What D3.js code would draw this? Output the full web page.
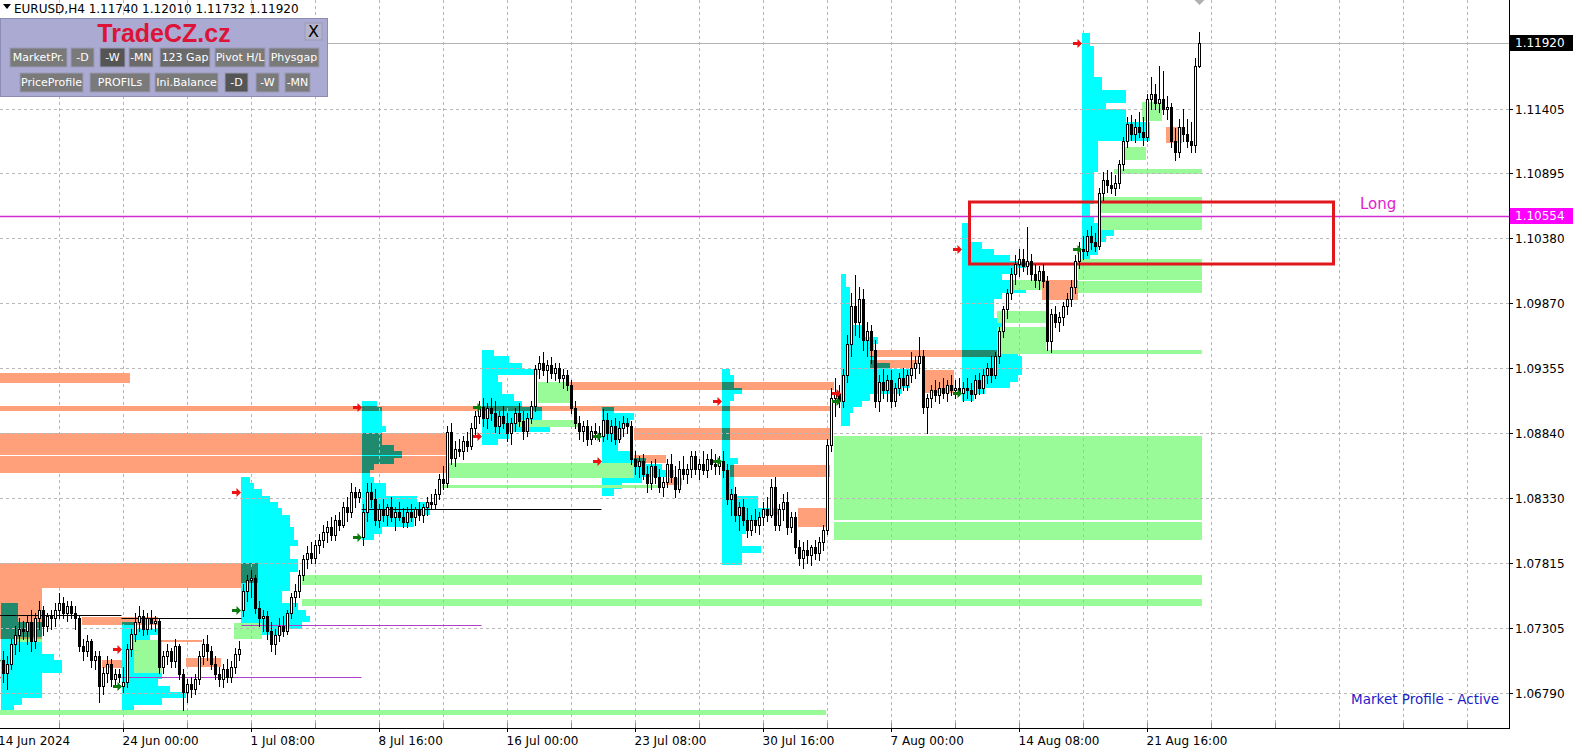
<!DOCTYPE html>
<html><head><meta charset="utf-8">
<script src="https://cdn.jsdelivr.net/npm/d3@7"></script>
<style>
html,body{margin:0;padding:0;background:#fff;overflow:hidden}
svg{display:block;font-family:"DejaVu Sans",sans-serif}
</style></head><body>
<svg id="c" width="1577" height="756"></svg>
<script>
// ---------- DATA ----------
// H4 bars, index 0 = 17 Jun 2024 00:00 ... 299 = 23 Aug 2024 20:00  [open, high, low, close]
const ohlc = [
[1.0705,1.0712,1.0688,1.0695],[1.0695,1.0708,1.0682,1.0702],[1.0702,1.0722,1.0698,1.0718],[1.0718,1.0732,1.0710,1.0725],[1.0725,1.0738,1.0712,1.0730],[1.0730,1.0736,1.0722,1.0728],
[1.0728,1.0740,1.0718,1.0735],[1.0735,1.0745,1.0712,1.0720],[1.0720,1.0742,1.0715,1.0738],[1.0738,1.0752,1.0730,1.0745],[1.0745,1.0748,1.0725,1.0732],[1.0732,1.0742,1.0728,1.0740],
[1.0740,1.0745,1.0730,1.0738],[1.0738,1.0750,1.0732,1.0745],[1.0745,1.0758,1.0738,1.0750],[1.0750,1.0755,1.0738,1.0742],[1.0742,1.0752,1.0736,1.0748],[1.0748,1.0752,1.0738,1.0742],
[1.0742,1.0748,1.0730,1.0738],[1.0738,1.0740,1.0712,1.0716],[1.0716,1.0722,1.0705,1.0712],[1.0712,1.0725,1.0708,1.0720],[1.0720,1.0722,1.0700,1.0705],[1.0705,1.0712,1.0698,1.0708],
[1.0708,1.0712,1.0672,1.0685],[1.0685,1.0700,1.0678,1.0695],[1.0695,1.0708,1.0688,1.0702],[1.0702,1.0706,1.0685,1.0690],[1.0690,1.0698,1.0684,1.0694],[1.0694,1.0698,1.0688,1.0692],
// 24 Jun
[1.0685,1.0700,1.0680,1.0688],[1.0688,1.0718,1.0684,1.0714],[1.0714,1.0730,1.0708,1.0726],[1.0726,1.0742,1.0720,1.0735],[1.0735,1.0748,1.0728,1.0740],[1.0740,1.0745,1.0725,1.0730],
[1.0730,1.0742,1.0726,1.0738],[1.0738,1.0745,1.0730,1.0734],[1.0734,1.0740,1.0728,1.0736],[1.0736,1.0738,1.0695,1.0700],[1.0700,1.0712,1.0695,1.0708],[1.0708,1.0718,1.0702,1.0712],
[1.0712,1.0715,1.0700,1.0704],[1.0704,1.0722,1.0700,1.0716],[1.0716,1.0718,1.0690,1.0694],[1.0694,1.0698,1.0666,1.0680],[1.0680,1.0690,1.0672,1.0686],[1.0686,1.0692,1.0676,1.0682],
[1.0682,1.0694,1.0678,1.0690],[1.0690,1.0712,1.0686,1.0708],[1.0708,1.0722,1.0702,1.0718],[1.0718,1.0725,1.0705,1.0712],[1.0712,1.0716,1.0698,1.0702],[1.0702,1.0708,1.0690,1.0694],
[1.0694,1.0700,1.0685,1.0690],[1.0690,1.0702,1.0684,1.0698],[1.0698,1.0706,1.0688,1.0692],[1.0692,1.0704,1.0688,1.0700],[1.0700,1.0715,1.0695,1.0710],[1.0710,1.0720,1.0705,1.0714],
// 1 Jul
[1.0745,1.0765,1.0740,1.0760],[1.0760,1.0772,1.0752,1.0768],[1.0768,1.0776,1.0755,1.0770],[1.0770,1.0772,1.0742,1.0746],[1.0746,1.0752,1.0732,1.0738],[1.0738,1.0745,1.0728,1.0740],
[1.0740,1.0744,1.0722,1.0728],[1.0728,1.0735,1.0712,1.0718],[1.0718,1.0730,1.0710,1.0725],[1.0725,1.0738,1.0720,1.0732],[1.0732,1.0740,1.0724,1.0728],[1.0728,1.0745,1.0726,1.0742],
[1.0742,1.0758,1.0738,1.0755],[1.0755,1.0765,1.0748,1.0760],[1.0760,1.0776,1.0755,1.0772],[1.0772,1.0788,1.0768,1.0785],[1.0785,1.0795,1.0778,1.0790],[1.0790,1.0798,1.0782,1.0786],
[1.0786,1.0800,1.0782,1.0796],[1.0796,1.0805,1.0790,1.0800],[1.0800,1.0812,1.0794,1.0806],[1.0806,1.0815,1.0798,1.0810],[1.0810,1.0818,1.0800,1.0804],[1.0804,1.0820,1.0800,1.0816],
[1.0816,1.0822,1.0808,1.0812],[1.0812,1.0830,1.0810,1.0826],[1.0826,1.0834,1.0815,1.0822],[1.0822,1.0845,1.0818,1.0838],[1.0838,1.0842,1.0826,1.0834],[1.0834,1.0840,1.0830,1.0838],
// 8 Jul
[1.0802,1.0828,1.0796,1.0822],[1.0822,1.0845,1.0815,1.0838],[1.0838,1.0845,1.0826,1.0832],[1.0832,1.0840,1.0812,1.0816],[1.0816,1.0828,1.0810,1.0824],[1.0824,1.0832,1.0815,1.0820],
[1.0820,1.0828,1.0812,1.0826],[1.0826,1.0834,1.0815,1.0818],[1.0818,1.0826,1.0808,1.0822],[1.0822,1.0830,1.0816,1.0818],[1.0818,1.0825,1.0810,1.0814],[1.0814,1.0826,1.0810,1.0822],
[1.0822,1.0828,1.0815,1.0818],[1.0818,1.0826,1.0812,1.0824],[1.0824,1.0830,1.0816,1.0820],[1.0820,1.0828,1.0814,1.0826],[1.0826,1.0834,1.0820,1.0830],[1.0830,1.0836,1.0824,1.0828],
[1.0828,1.0840,1.0825,1.0836],[1.0836,1.0852,1.0832,1.0848],[1.0848,1.0858,1.0840,1.0845],[1.0845,1.0890,1.0842,1.0885],[1.0885,1.0892,1.0860,1.0865],[1.0865,1.0878,1.0858,1.0872],
[1.0872,1.0880,1.0866,1.0870],[1.0870,1.0882,1.0864,1.0878],[1.0878,1.0885,1.0870,1.0874],[1.0874,1.0892,1.0872,1.0888],[1.0888,1.0902,1.0882,1.0898],[1.0898,1.0910,1.0892,1.0905],
// 15 Jul
[1.0905,1.0912,1.0890,1.0896],[1.0896,1.0908,1.0888,1.0904],[1.0904,1.0912,1.0895,1.0900],[1.0900,1.0910,1.0885,1.0890],[1.0890,1.0902,1.0884,1.0898],[1.0898,1.0906,1.0888,1.0892],
[1.0892,1.0900,1.0878,1.0884],[1.0884,1.0896,1.0876,1.0892],[1.0892,1.0904,1.0886,1.0900],[1.0900,1.0908,1.0890,1.0894],[1.0894,1.0902,1.0880,1.0886],[1.0886,1.0900,1.0882,1.0896],
[1.0896,1.0910,1.0892,1.0906],[1.0906,1.0938,1.0902,1.0935],[1.0935,1.0945,1.0928,1.0940],[1.0940,1.0948,1.0930,1.0934],[1.0934,1.0942,1.0925,1.0938],[1.0938,1.0944,1.0928,1.0932],
[1.0932,1.0940,1.0926,1.0936],[1.0936,1.0940,1.0925,1.0928],[1.0928,1.0935,1.0920,1.0930],[1.0930,1.0934,1.0918,1.0922],[1.0922,1.0926,1.0900,1.0904],[1.0904,1.0910,1.0888,1.0892],
[1.0892,1.0898,1.0880,1.0886],[1.0886,1.0894,1.0878,1.0890],[1.0890,1.0895,1.0875,1.0880],[1.0880,1.0890,1.0876,1.0886],[1.0886,1.0892,1.0880,1.0884],[1.0884,1.0890,1.0878,1.0882],
// 22 Jul
[1.0882,1.0903,1.0878,1.0895],[1.0895,1.0900,1.0880,1.0884],[1.0884,1.0895,1.0878,1.0890],[1.0890,1.0896,1.0876,1.0880],[1.0880,1.0894,1.0877,1.0888],[1.0888,1.0898,1.0882,1.0892],
[1.0892,1.0896,1.0884,1.0890],[1.0890,1.0894,1.0860,1.0864],[1.0864,1.0870,1.0852,1.0858],[1.0858,1.0866,1.0850,1.0862],[1.0862,1.0868,1.0848,1.0852],[1.0852,1.0858,1.0838,1.0845],
[1.0845,1.0862,1.0840,1.0858],[1.0858,1.0864,1.0845,1.0850],[1.0850,1.0856,1.0838,1.0842],[1.0842,1.0850,1.0835,1.0846],[1.0846,1.0864,1.0842,1.0860],[1.0860,1.0868,1.0846,1.0850],
[1.0850,1.0858,1.0834,1.0840],[1.0840,1.0862,1.0838,1.0856],[1.0856,1.0866,1.0848,1.0852],[1.0852,1.0860,1.0845,1.0856],[1.0856,1.0870,1.0850,1.0866],[1.0866,1.0870,1.0852,1.0856],
[1.0856,1.0864,1.0848,1.0860],[1.0860,1.0870,1.0852,1.0855],[1.0855,1.0868,1.0850,1.0864],[1.0864,1.0872,1.0856,1.0860],[1.0860,1.0868,1.0852,1.0858],[1.0858,1.0866,1.0852,1.0862],
// 29 Jul
[1.0862,1.0870,1.0850,1.0855],[1.0855,1.0860,1.0828,1.0832],[1.0832,1.0840,1.0820,1.0836],[1.0836,1.0842,1.0815,1.0820],[1.0820,1.0830,1.0808,1.0826],[1.0826,1.0832,1.0812,1.0816],
[1.0816,1.0825,1.0802,1.0808],[1.0808,1.0820,1.0804,1.0816],[1.0816,1.0824,1.0806,1.0812],[1.0812,1.0822,1.0805,1.0818],[1.0818,1.0830,1.0812,1.0824],[1.0824,1.0834,1.0815,1.0820],
[1.0820,1.0848,1.0818,1.0842],[1.0842,1.0850,1.0808,1.0812],[1.0812,1.0828,1.0808,1.0824],[1.0824,1.0836,1.0816,1.0830],[1.0830,1.0838,1.0805,1.0810],[1.0810,1.0822,1.0806,1.0818],
[1.0818,1.0822,1.0790,1.0794],[1.0794,1.0800,1.0780,1.0786],[1.0786,1.0798,1.0778,1.0792],[1.0792,1.0800,1.0782,1.0788],[1.0788,1.0796,1.0780,1.0794],[1.0794,1.0800,1.0785,1.0790],
[1.0790,1.0802,1.0784,1.0798],[1.0798,1.0812,1.0792,1.0808],[1.0808,1.0880,1.0805,1.0875],[1.0875,1.0920,1.0870,1.0912],[1.0912,1.0928,1.0898,1.0915],[1.0915,1.0922,1.0905,1.0910],
// 5 Aug
[1.0910,1.0935,1.0905,1.0930],[1.0930,1.0962,1.0925,1.0955],[1.0955,1.0995,1.0945,1.0985],[1.0985,1.1009,1.0962,1.0972],[1.0972,1.1000,1.0960,1.0990],[1.0990,1.0998,1.0950,1.0958],
[1.0958,1.0972,1.0945,1.0965],[1.0965,1.0970,1.0940,1.0950],[1.0950,1.0958,1.0905,1.0910],[1.0910,1.0930,1.0902,1.0925],[1.0925,1.0935,1.0912,1.0918],[1.0918,1.0930,1.0910,1.0926],
[1.0926,1.0934,1.0905,1.0910],[1.0910,1.0924,1.0906,1.0920],[1.0920,1.0932,1.0914,1.0928],[1.0928,1.0936,1.0918,1.0922],[1.0922,1.0934,1.0918,1.0930],[1.0930,1.0948,1.0925,1.0936],
[1.0936,1.0945,1.0928,1.0940],[1.0940,1.0960,1.0932,1.0945],[1.0945,1.0950,1.0900,1.0905],[1.0905,1.0915,1.0884,1.0912],[1.0912,1.0922,1.0905,1.0918],[1.0918,1.0926,1.0910,1.0914],
[1.0914,1.0925,1.0908,1.0920],[1.0920,1.0928,1.0912,1.0916],[1.0916,1.0926,1.0910,1.0922],[1.0922,1.0930,1.0914,1.0918],[1.0918,1.0926,1.0912,1.0920],[1.0920,1.0928,1.0914,1.0916],
// 12 Aug
[1.0916,1.0925,1.0910,1.0920],[1.0920,1.0928,1.0912,1.0918],[1.0918,1.0924,1.0910,1.0915],[1.0915,1.0930,1.0912,1.0926],[1.0926,1.0932,1.0915,1.0920],[1.0920,1.0935,1.0916,1.0930],
[1.0930,1.0940,1.0924,1.0936],[1.0936,1.0945,1.0925,1.0930],[1.0930,1.0948,1.0928,1.0945],[1.0945,1.0968,1.0940,1.0965],[1.0965,1.0985,1.0960,1.0982],[1.0982,1.0998,1.0975,1.0995],
[1.0995,1.1015,1.0990,1.1010],[1.1010,1.1025,1.1002,1.1018],[1.1018,1.1030,1.1008,1.1022],[1.1022,1.1030,1.1012,1.1016],[1.1016,1.1047,1.1010,1.1020],[1.1020,1.1026,1.1005,1.1010],
[1.1010,1.1018,1.1000,1.1005],[1.1005,1.1016,1.0998,1.1012],[1.1012,1.1018,1.1000,1.1004],[1.1004,1.1008,1.0950,1.0957],[1.0957,1.0982,1.0948,1.0978],[1.0978,1.0985,1.0968,1.0972],
[1.0972,1.0980,1.0965,1.0976],[1.0976,1.0988,1.0970,1.0985],[1.0985,1.0995,1.0978,1.0990],[1.0990,1.1005,1.0985,1.1000],[1.1000,1.1025,1.0995,1.1020],[1.1020,1.1035,1.1015,1.1030],
// 19 Aug
[1.1030,1.1040,1.1022,1.1028],[1.1028,1.1045,1.1025,1.1040],[1.1040,1.1048,1.1030,1.1035],[1.1035,1.1042,1.1028,1.1032],[1.1032,1.1078,1.1030,1.1074],[1.1074,1.1090,1.1068,1.1084],
[1.1084,1.1092,1.1075,1.1080],[1.1080,1.1090,1.1074,1.1078],[1.1078,1.1088,1.1072,1.1082],[1.1082,1.1100,1.1078,1.1097],[1.1097,1.1118,1.1092,1.1115],[1.1115,1.1134,1.1110,1.1128],
[1.1128,1.1135,1.1116,1.1120],[1.1120,1.1132,1.1114,1.1126],[1.1126,1.1138,1.1118,1.1122],[1.1122,1.1134,1.1112,1.1118],[1.1118,1.1152,1.1115,1.1148],[1.1148,1.1165,1.1140,1.1152],
[1.1152,1.1160,1.1140,1.1145],[1.1145,1.1174,1.1138,1.1148],[1.1148,1.1170,1.1136,1.1140],[1.1140,1.1150,1.1132,1.1142],[1.1142,1.1145,1.1110,1.1115],[1.1115,1.1125,1.1100,1.1106],
[1.1106,1.1132,1.1102,1.1126],[1.1126,1.1140,1.1115,1.1120],[1.1120,1.1132,1.1110,1.1115],[1.1115,1.1130,1.1106,1.1112],[1.1112,1.1180,1.1106,1.1174],[1.11740,1.12010,1.11732,1.11920]
];

const priceTicks = [1.11920, 1.11405, 1.10895, 1.10380, 1.09870, 1.09355, 1.08840, 1.08330, 1.07815, 1.07305, 1.06790];
const timeLabelBars = [-2, 30, 62, 94, 126, 158, 190, 222, 254, 286];
const timeLabelTexts = ["14 Jun 2024","24 Jun 00:00","1 Jul 08:00","8 Jul 16:00","16 Jul 00:00","23 Jul 08:00","30 Jul 16:00","7 Aug 00:00","14 Aug 08:00","21 Aug 16:00"];

// weekly market profiles: first bar of week, top price, TPO counts per 5-pip row
const profileStep = 0.0005;
const profileStart = [0, 30, 60, 90, 120, 150, 180, 210, 240, 270];
const profileTop = [1.0750, 1.0735, 1.0850, 1.0910, 1.0950, 1.0905, 1.0935, 1.1010, 1.1050, 1.1200];
const profileCounts = [
  [4,4,4,10,10,10,10,10,13,15,15,10,10,10,10,5,3],
  [3,9,7,7,8,10,10,10,10,9,12,16,10,3],
  [2,3,5,7,9,10,12,12,13,13,14,12,12,14,14,12,12,12,10,10,14,16,17,15,10],
  [4,5,5,5,6,5,5,8,10,8,3,2,3,6,6,14,17,17,13,13,5,3],
  [3,7,10,14,4,5,5,8,10,15,15,17,17,7,4],
  [3,8,7,5,5,4,4,7,11,15,18,10,5,3],
  [2,3,3,5,3,2,2,2,2,2,2,2,2,2,4,3,3,3,3,3,9,9,14,10,6,6,5,5,10,5,5],
  [1,1,2,2,2,3,3,3,5,5,9,8,7,8,12,17,17,17,15,7,5,3,2,2],
  [2,2,2,5,8,12,16,14,10,14,16,10,8,8,8,10,10,10,12,12,14,15,15,15,14,12,6,3],
  [2,2,3,3,3,3,3,5,5,11,11,6,11,11,17,17,17,4,4,4,4,4,3,3,3,3,3,2,2,3,4,8,6,4,4,2]
];

// zones [fromBar, toBar, highPrice, lowPrice]
const salmonZones = [
  [-1,32,1.0932,1.0924],[-1,207,1.0906,1.0902],[-1,111,1.0884,1.0867],[-1,111,1.0866,1.0853],
  [-1,60,1.0782,1.0762],[60,64,1.0782,1.0766],[-1,10,1.0762,1.0722],[20,39,1.0739,1.0733],[39,50,1.0721,1.0719],
  [25,30,1.0705,1.0699],[46,55,1.0707,1.0700],[142,208,1.0925,1.0918],[158,207,1.0888,1.0879],
  [158,166,1.0867,1.0861],[182,207,1.0859,1.0850],[166,170,1.0849,1.0843],[199,206,1.0825,1.0810],
  [217,249,1.0950,1.0944],[217,229,1.0942,1.0936],[230,238,1.0934,1.0916],[260,269,1.1005,1.0989],
  [291,295,1.1126,1.1113]
];
const greenZones = [
  [208,300,1.0882,1.0816],[208,300,1.0814,1.0800],[75,300,1.0772,1.0764],[75,300,1.0753,1.0748],
  [-1,206,1.0666,1.0662],[278,300,1.1093,1.1089],[274,300,1.1071,1.1058],[274,300,1.1056,1.1045],
  [269,300,1.1022,1.1005],[269,300,1.1004,1.0995],[249,300,1.0950,1.0947],[280,286,1.1110,1.1100],
  [285,290,1.1146,1.1131],[249,261,1.0981,1.0971],[249,261,1.0968,1.0950],[253,260,1.1005,1.0997],
  [112,158,1.0861,1.0849],[110,164,1.0843,1.0841],[134,142,1.0925,1.0908],[129,144,1.0895,1.0889],
  [33,40,1.0721,1.0695],[58,65,1.0734,1.0722],[4,10,1.0723,1.0719]
];
// weekly reference lines [fromBar, toBar, price, kind]
const refLines = [[-1,30,1.0741,"close"],[30,60,1.0738,"close"],[60,120,1.0733,"mid"],[30,90,1.0692,"mid"],[90,150,1.0824,"close"]];
const signalPrice = 1.10554;
const signalText = "Long";
const signalZone = [242, 333, 1.1067, 1.1018];

// ---------- DRAW ----------
const plotR = 1509, plotB = 728;
const x = d3.scaleLinear().domain([-0.875, 376.375]).range([0, plotR]);
const y = d3.scaleLinear().domain([1.065146, 1.122618]).range([plotB, 0]);
const svg = d3.select("#c");
svg.append("rect").attr("width",1577).attr("height",756).attr("fill","#fff");
svg.append("defs").append("clipPath").attr("id","pc").append("rect").attr("width",plotR).attr("height",plotB);
const g = svg.append("g").attr("clip-path","url(#pc)");
const R = v => Math.round(v);
const bx = b => x(b - 0.5);

function band(sel, z, color){
  const x0 = R(bx(z[0])), x1 = R(bx(z[1])), y0 = R(y(z[2])), y1 = R(y(z[3]));
  sel.append("rect").attr("x",x0).attr("y",y0).attr("width",Math.max(0,x1-x0)).attr("height",Math.max(1,y1-y0)).attr("fill",color);
}
const gS = g.append("g"), gC = g.append("g"), gG = g.append("g"), gT = g.append("g");
salmonZones.forEach(z=>band(gS,z,"#ffa07a"));

// profiles
const histRects = [];
profileStart.forEach((s,i)=>{
  profileCounts[i].forEach((cnt,r)=>{
    const hi = profileTop[i] - r*profileStep, lo = hi - profileStep;
    histRects.push([s, s+cnt, hi, lo]);
  });
});
histRects.forEach(z=>band(gC,z,"#00ffff"));
greenZones.forEach(z=>band(gG,z,"#98fb98"));
function inter(a,b){
  const f=Math.max(a[0],b[0]), t=Math.min(a[1],b[1]), h=Math.min(a[2],b[2]), l=Math.max(a[3],b[3]);
  return (t>f && h>l) ? [f,t,h,l] : null;
}
histRects.forEach(h=>salmonZones.forEach(s=>{const o=inter(h,s); if(o) band(gT,o,"#1f8a6e");}));
greenZones.forEach(gz=>salmonZones.forEach(s=>{const o=inter(gz,s); if(o) band(gT,o,"#a8a850");}));

// grid
const gridG = g.append("g").attr("stroke","#b8b8b8").attr("stroke-dasharray","3,3").attr("stroke-width",1);
priceTicks.slice(1).forEach(p=>{
  gridG.append("line").attr("x1",0).attr("x2",plotR).attr("y1",R(y(p))+0.5).attr("y2",R(y(p))+0.5);
});
for(let b=14; x(b)<plotR; b+=16){
  gridG.append("line").attr("x1",x(b)).attr("x2",x(b)).attr("y1",0).attr("y2",plotB);
}

// reference lines
refLines.forEach(l=>{
  g.append("line").attr("x1",bx(l[0])).attr("x2",bx(l[1])).attr("y1",R(y(l[2]))+0.5).attr("y2",R(y(l[2]))+0.5)
   .attr("stroke", l[3]==="close" ? "#000" : "#b03ec8").attr("stroke-width",1);
});

// bid line
const last = ohlc[ohlc.length-1];
g.append("line").attr("x1",0).attr("x2",plotR).attr("y1",R(y(last[3]))+0.5).attr("y2",R(y(last[3]))+0.5).attr("stroke","#b4b4b4");
// signal line & zone
g.append("line").attr("x1",0).attr("x2",plotR).attr("y1",R(y(signalPrice))+0.5).attr("y2",R(y(signalPrice))+0.5).attr("stroke","#d42ad4").attr("stroke-width",1.5);
g.append("rect").attr("x",bx(signalZone[0])).attr("y",R(y(signalZone[2])))
  .attr("width",bx(signalZone[1])-bx(signalZone[0])).attr("height",R(y(signalZone[3]))-R(y(signalZone[2])))
  .attr("fill","none").attr("stroke","#e0171c").attr("stroke-width",3);
g.append("text").attr("x",1360).attr("y",R(y(signalPrice))-7).attr("fill","#e020d0").attr("font-size",15).text(signalText);

// candles
const cg = g.append("g");
ohlc.forEach((d,i)=>{
  const cx = x(i);
  cg.append("line").attr("x1",cx).attr("x2",cx).attr("y1",R(y(d[1]))).attr("y2",R(y(d[2]))+1).attr("stroke","#000");
  const top = R(y(Math.max(d[0],d[3]))), bot = R(y(Math.min(d[0],d[3])));
  cg.append("rect").attr("x",cx-1).attr("y",top+0.5).attr("width",2).attr("height",Math.max(0,bot-top))
    .attr("fill", d[3]>=d[0] ? "#fff" : "#000").attr("stroke","#000").attr("stroke-width",1);
});

// week open / close arrows
const arrow = "M-9,-1.5h4.5v-3l4.5,4.5l-4.5,4.5v-3h-4.5z";
profileStart.forEach((s,i)=>{
  const endBar = Math.min(s+29, ohlc.length-1);
  const ax = R(bx(s));
  g.append("path").attr("d",arrow).attr("transform",`translate(${ax},${R(y(ohlc[s][0]))+0.5})`).attr("fill","#0a7a0a");
  g.append("path").attr("d",arrow).attr("transform",`translate(${ax},${R(y(ohlc[endBar][3]))+0.5})`).attr("fill","#ee1111");
});
// shift marker
svg.append("path").attr("d",`M${x(ohlc.length-1)-5},0h10l-5,5z`).attr("fill","#b0b0b0");

// frame
svg.append("line").attr("x1",plotR+0.5).attr("x2",plotR+0.5).attr("y1",0).attr("y2",plotB+1).attr("stroke","#000");
svg.append("line").attr("x1",0).attr("x2",plotR+1).attr("y1",plotB+0.5).attr("y2",plotB+0.5).attr("stroke","#000");

// price axis
priceTicks.forEach(p=>{
  const yy = R(y(p))+0.5;
  svg.append("line").attr("x1",plotR).attr("x2",plotR+4).attr("y1",yy).attr("y2",yy).attr("stroke","#000");
  svg.append("text").attr("x",plotR+6).attr("y",yy).attr("dy","0.36em").attr("font-size",12).attr("fill","#000").text(p.toFixed(5));
});
function priceBox(p, bg){
  const yy = R(y(p));
  svg.append("rect").attr("x",plotR+1).attr("y",yy-8).attr("width",63).attr("height",16).attr("fill",bg);
  svg.append("text").attr("x",plotR+6).attr("y",yy).attr("dy","0.36em").attr("font-size",12).attr("fill","#fff").text(p.toFixed(5));
}
priceBox(signalPrice,"#ff00ff");
priceBox(last[3],"#000");

// time axis
for(let b=14; x(b)<plotR; b+=16){
  svg.append("line").attr("x1",x(b)).attr("x2",x(b)).attr("y1",plotB-5).attr("y2",plotB).attr("stroke","#888");
}
timeLabelBars.forEach((b,i)=>{
  svg.append("line").attr("x1",x(b)).attr("x2",x(b)).attr("y1",plotB).attr("y2",plotB+4).attr("stroke","#000");
  svg.append("text").attr("x",Math.max(x(b)-1,-2)).attr("y",plotB+17).attr("font-size",12).attr("fill","#000").text(timeLabelTexts[i]);
});

// title
svg.append("path").attr("d","M3,4h8l-4,5z").attr("fill","#000");
svg.append("text").attr("x",14).attr("y",13).attr("font-size",12).attr("fill","#000")
  .text("EURUSD,H4  "+[last[0],last[1],last[2],last[3]].map(v=>v.toFixed(5)).join(" "));

// status text
svg.append("text").attr("x",1499).attr("y",704).attr("text-anchor","end").attr("font-size",13.5).attr("fill","#1d1dc8").text("Market Profile - Active");

// control panel
const pan = svg.append("g");
pan.append("rect").attr("x",0.5).attr("y",18.5).attr("width",327).attr("height",78).attr("fill","#aaaad2").attr("stroke","#8c8cb4");
pan.append("text").attr("x",164).attr("y",42).attr("text-anchor","middle").attr("font-family","Liberation Sans, Arial").attr("font-weight","bold")
  .attr("font-size",25).attr("fill","#dc1438").text("TradeCZ.cz");
const btns = [
  [305,23,17,17,"X","#b4b4cc","#000"],
  [10,48,57,19,"MarketPr.","#7a7a7a","#fff"],[71,48,23,19,"-D","#7a7a7a","#fff"],[100,48,25,19,"-W","#555","#fff"],
  [129,48,24,19,"-MN","#6a6a6a","#fff"],[160,48,50,19,"123 Gap","#6a6a6a","#fff"],[215,48,50,19,"Pivot H/L","#7a7a7a","#fff"],
  [269,48,50,19,"Physgap","#7a7a7a","#fff"],
  [20,73,63,19,"PriceProfile","#7a7a7a","#fff"],[90,73,60,19,"PROFILs","#7a7a7a","#fff"],[155,73,63,19,"Ini.Balance","#7a7a7a","#fff"],
  [225,73,23,19,"-D","#555","#fff"],[256,73,23,19,"-W","#7a7a7a","#fff"],[285,73,25,19,"-MN","#7a7a7a","#fff"]
];
btns.forEach(b=>{
  pan.append("rect").attr("x",b[0]).attr("y",b[1]).attr("width",b[2]).attr("height",b[3]).attr("fill",b[5]).attr("stroke","#9a9ab8");
  pan.append("text").attr("x",b[0]+b[2]/2).attr("y",b[1]+b[3]/2).attr("dy","0.36em").attr("text-anchor","middle")
    .attr("font-size", b[4]==="X"?16:11).attr("fill",b[6]).text(b[4]);
});
</script>
</body></html>
